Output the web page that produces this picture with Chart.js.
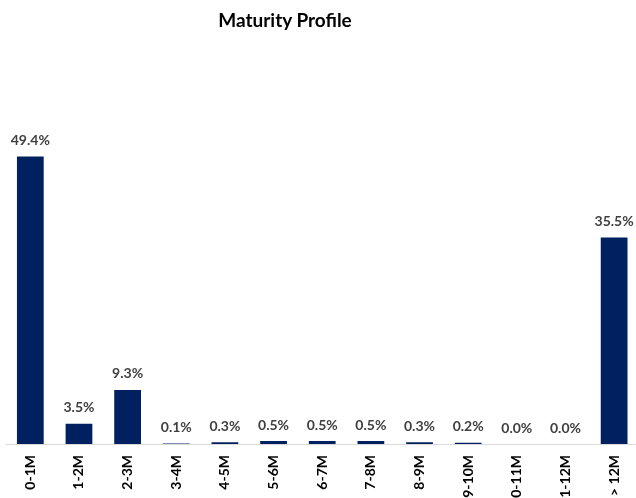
<!DOCTYPE html>
<html>
<head>
<meta charset="utf-8">
<script src="https://cdn.jsdelivr.net/npm/chart.js@4/dist/chart.umd.min.js"></script>
<style>
  html, body { margin: 0; padding: 0; background: #fff; overflow: hidden; width: 636px; height: 498px; }
  #wrap { position: absolute; left: 0; top: 0; width: 642px; height: 504px; }
  #title { position: absolute; left: 135px; width: 300px; top: 8px; text-align: center;
           font: bold 19px "Lato", "Liberation Sans", sans-serif; color: #000; }
</style>
</head>
<body>
<div id="wrap"><canvas id="c" width="642" height="504"></canvas></div>
<div id="title">Maturity Profile</div>
<script>
const categories = ["0-1M", "1-2M", "2-3M", "3-4M", "4-5M", "5-6M", "6-7M", "7-8M", "8-9M", "9-10M", "10-11M", "11-12M", "> 12M"];
const shares = [49.4, 3.5, 9.3, 0.1, 0.3, 0.5, 0.5, 0.5, 0.3, 0.2, 0.0, 0.0, 35.5];

const valueLabels = {
  id: 'valueLabels',
  afterDatasetsDraw(chart) {
    const ctx = chart.ctx;
    const meta = chart.getDatasetMeta(0);
    ctx.save();
    ctx.font = 'bold 14px "Lato", "Liberation Sans", sans-serif';
    ctx.fillStyle = '#404040';
    ctx.textAlign = 'center';
    ctx.textBaseline = 'bottom';
    meta.data.forEach((bar, i) => {
      ctx.fillText(shares[i].toFixed(1) + '%', bar.x, bar.y - 9);
    });
    ctx.restore();
  }
};

new Chart(document.getElementById('c'), {
  type: 'bar',
  data: {
    labels: categories,
    datasets: [{
      data: shares,
      backgroundColor: '#002060',
      borderWidth: 0,
      barPercentage: 0.55,
      categoryPercentage: 1.0
    }]
  },
  options: {
    responsive: false,
    animation: false,
    layout: { padding: { left: 6, right: 2, top: 124, bottom: 0 } },
    plugins: { legend: { display: false }, title: { display: false }, tooltip: { enabled: false } },
    scales: {
      x: {
        afterFit(scale) { scale.height = 60; },
        grid: { display: false, drawTicks: false },
        border: { display: true, color: '#d9d9d9', width: 1 },
        ticks: {
          minRotation: 90, maxRotation: 90, autoSkip: false, padding: 11,
          color: '#000',
          font: { family: '"Lato", "Liberation Sans", sans-serif', size: 14, weight: 'bold' }
        }
      },
      y: {
        display: false,
        min: 0, max: 55
      }
    }
  },
  plugins: [valueLabels]
});
</script>
</body>
</html>
